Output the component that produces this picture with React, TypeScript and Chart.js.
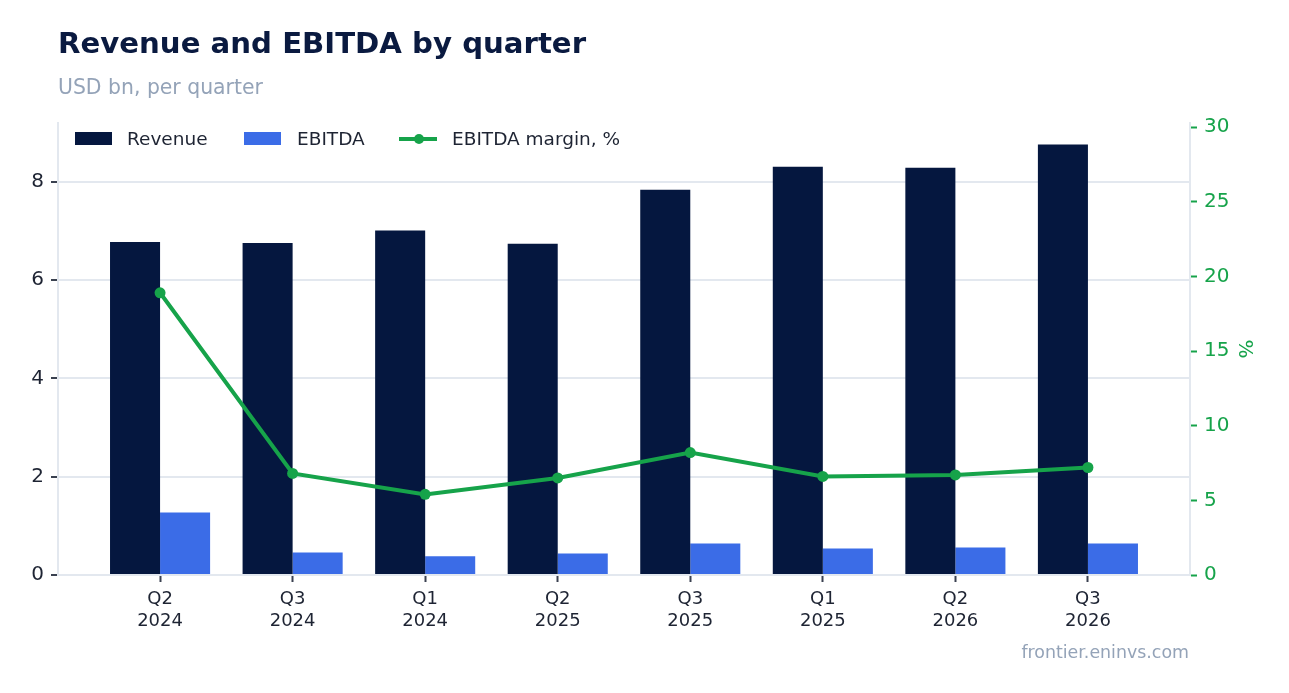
import React, { useEffect, useRef } from 'react';
import { Chart, registerables } from 'chart.js';

Chart.register(...registerables);

const quarters = ['Q2', 'Q3', 'Q1', 'Q2', 'Q3', 'Q1', 'Q2', 'Q3'];
const years = ['2024', '2024', '2024', '2025', '2025', '2025', '2026', '2026'];
const revenue = [6.78, 6.76, 7.01, 6.74, 7.84, 8.31, 8.29, 8.76];
const ebitda = [1.27, 0.46, 0.38, 0.44, 0.64, 0.54, 0.56, 0.64];
const margin = [18.9, 6.8, 5.4, 6.5, 8.2, 6.6, 6.7, 7.2];

const NAVY = '#05173f';
const BLUE = '#3b6ce7';
const GREEN = '#16a34a';
const GRID = '#e3e8ef';
const TEXT = '#1e2433';
const MUTED = '#94a3b8';
const FONT = "'DejaVu Sans', sans-serif";

const toPoints = (vals: number[]) => vals.map((y, x) => ({ x, y }));

export default function App() {
  const canvasRef = useRef<HTMLCanvasElement>(null);

  useEffect(() => {
    const ctx = canvasRef.current?.getContext('2d');
    if (!ctx) return;

    Chart.defaults.font.family = FONT;

    const chart = new Chart(ctx, {
      type: 'bar',
      data: {
        datasets: [
          {
            type: 'line',
            label: 'EBITDA margin, %',
            data: toPoints(margin),
            yAxisID: 'y1',
            borderColor: GREEN,
            backgroundColor: GREEN,
            borderWidth: 4,
            pointRadius: 5.5,
            pointBackgroundColor: GREEN,
            pointBorderWidth: 0,
            order: 0,
          },
          {
            type: 'bar',
            label: 'Revenue',
            data: toPoints(revenue),
            yAxisID: 'y',
            backgroundColor: NAVY,
            order: 1,
          },
          {
            type: 'bar',
            label: 'EBITDA',
            data: toPoints(ebitda),
            yAxisID: 'y',
            backgroundColor: BLUE,
            order: 1,
          },
        ] as any,
      },
      options: {
        animation: false,
        responsive: true,
        maintainAspectRatio: false,
        layout: { padding: { top: 123, right: 29, bottom: 0, left: 0 } },
        datasets: {
          bar: { barPercentage: 1, categoryPercentage: 0.755 },
        },
        plugins: {
          legend: { display: false },
          tooltip: { enabled: false },
        },
        scales: {
          x: {
            type: 'linear',
            min: -0.77,
            max: 7.77,
            offset: false,
            afterFit: (s: any) => { s.height = 118; },
            afterBuildTicks: (axis: any) => {
              axis.ticks = quarters.map((_, i) => ({ value: i }));
            },
            grid: {
              offset: false,
              drawOnChartArea: false,
              tickColor: '#3a4150',
              tickLength: 7,
              tickWidth: 2,
            },
            border: { color: GRID, width: 2 },
            ticks: {
              color: TEXT,
              font: { size: 18 },
              padding: 7,
              maxRotation: 0,
              autoSkip: false,
              callback: (v: any) => [quarters[v], years[v]],
            },
          },
          y: {
            position: 'left',
            min: 0,
            max: 9.2,
            afterFit: (s: any) => { s.width = 58; },
            grid: {
              color: GRID,
              lineWidth: 2,
              tickColor: '#3a4150',
              tickLength: 7,
              tickWidth: 2,
            },
            border: { color: GRID, width: 2 },
            ticks: {
              stepSize: 2,
              includeBounds: false,
              color: TEXT,
              font: { size: 20 },
              padding: 7,
            },
          },
          y1: {
            position: 'right',
            min: 0,
            max: 30.27,
            afterFit: (s: any) => { s.width = 70; },
            grid: {
              drawOnChartArea: false,
              tickColor: GREEN,
              tickLength: 7,
              tickWidth: 2,
            },
            border: { color: GRID, width: 2 },
            ticks: {
              stepSize: 5,
              includeBounds: false,
              color: GREEN,
              font: { size: 20 },
              padding: 7,
            },
            title: {
              display: true,
              text: '%',
              color: GREEN,
              font: { size: 20 },
              padding: 4,
            },
          },
        },
      } as any,
    });

    return () => chart.destroy();
  }, []);

  const legendText: React.CSSProperties = {
    position: 'absolute',
    top: 128,
    fontSize: 18.5,
    lineHeight: '22px',
    color: TEXT,
    fontFamily: FONT,
    whiteSpace: 'nowrap',
  };

  return (
    <div style={{ position: 'fixed', left: 0, top: 0, width: 1289, height: 693, background: '#fff', fontFamily: FONT }}>
      <canvas ref={canvasRef} />
      <div style={{ position: 'absolute', left: 58, top: 29, fontSize: 29.2, lineHeight: 1, fontWeight: 700, color: '#0a1a40', whiteSpace: 'nowrap' }}>
        Revenue and EBITDA by quarter
      </div>
      <div style={{ position: 'absolute', left: 58, top: 77, fontSize: 20.4, lineHeight: 1, color: MUTED, whiteSpace: 'nowrap' }}>
        USD bn, per quarter
      </div>

      <div style={{ position: 'absolute', left: 75, top: 132, width: 37, height: 13, background: NAVY }} />
      <div style={{ ...legendText, left: 127 }}>Revenue</div>
      <div style={{ position: 'absolute', left: 244, top: 132, width: 37, height: 13, background: BLUE }} />
      <div style={{ ...legendText, left: 297 }}>EBITDA</div>
      <div style={{ position: 'absolute', left: 399, top: 137, width: 38, height: 4, background: GREEN }} />
      <div style={{ position: 'absolute', left: 414, top: 134, width: 10, height: 10, borderRadius: 5, background: GREEN }} />
      <div style={{ ...legendText, left: 452 }}>EBITDA margin, %</div>

      <div style={{ position: 'absolute', right: 100, top: 644, fontSize: 17.4, lineHeight: 1, color: MUTED, whiteSpace: 'nowrap' }}>
        frontier.eninvs.com
      </div>
    </div>
  );
}
